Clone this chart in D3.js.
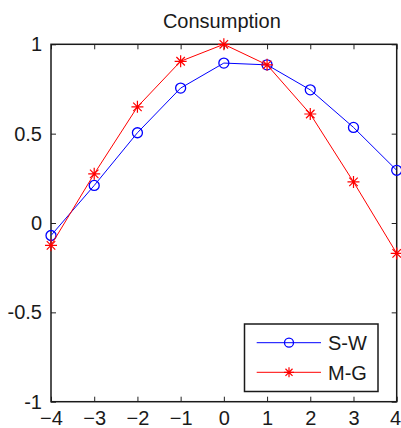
<!DOCTYPE html>
<html>
<head>
<meta charset="utf-8">
<script src="https://cdn.jsdelivr.net/npm/d3@7"></script>
<style>
  html, body { margin: 0; padding: 0; background: #fff; }
  svg { display: block; }
  text { font-family: "Liberation Sans", Arial, Helvetica, sans-serif; fill: #1a1a1a; }
</style>
</head>
<body>
<svg id="chart" width="401" height="428"></svg>
<script>
// Horizon (quarters) and responses for the two models
const horizon = [-4, -3, -2, -1, 0, 1, 2, 3, 4];
const swValues = [-0.07, 0.21, 0.505, 0.755, 0.895, 0.885, 0.745, 0.535, 0.295];
const mgValues = [-0.125, 0.275, 0.65, 0.905, 1.0, 0.885, 0.61, 0.23, -0.17];
const seriesNames = ["S-W", "M-G"];
const xTicks = [-4, -3, -2, -1, 0, 1, 2, 3, 4];
const yTicks = [-1, -0.5, 0, 0.5, 1];
const yTickLabels = ["-1", "-0.5", "0", "0.5", "1"];
const titleText = "Consumption";

const width = 401, height = 428;
const margin = { top: 44.3, right: 4.3, bottom: 26.3, left: 51 };
const svg = d3.select("#chart");

const x = d3.scaleLinear().domain([-4, 4]).range([margin.left, width - margin.right]);
const y = d3.scaleLinear().domain([-1, 1]).range([height - margin.bottom, margin.top]);

const fontSize = 20;
const tickLen = 5;

// Axes: ticks point inward on all four sides, box around the plot
svg.append("g").attr("class", "x-bottom")
  .attr("transform", `translate(0,${y(-1)})`)
  .call(d3.axisBottom(x).tickValues(xTicks).tickSizeInner(-tickLen).tickSizeOuter(0).tickPadding(9).tickFormat(d3.format("d")))
  .call(g => g.select(".domain").remove());
svg.append("g")
  .attr("transform", `translate(0,${y(1)})`)
  .call(d3.axisTop(x).tickValues(xTicks).tickSizeInner(-tickLen).tickSizeOuter(0).tickFormat(""))
  .call(g => g.select(".domain").remove());
svg.append("g")
  .attr("transform", `translate(${x(-4)},0)`)
  .call(d3.axisLeft(y).tickValues(yTicks).tickSizeInner(-tickLen).tickSizeOuter(0).tickPadding(9)
    .tickFormat((d, i) => yTickLabels[i]))
  .call(g => g.select(".domain").remove());
svg.append("g")
  .attr("transform", `translate(${x(4)},0)`)
  .call(d3.axisRight(y).tickValues(yTicks).tickSizeInner(-tickLen).tickSizeOuter(0).tickFormat(""))
  .call(g => g.select(".domain").remove());

svg.selectAll(".tick line").attr("stroke", "#222").attr("stroke-width", 1);
svg.selectAll(".tick text").attr("font-size", fontSize)
  .style("font-family", "'Liberation Sans', Arial, sans-serif").attr("fill", "#1a1a1a");

// Keep the last x label inside the right edge of the figure
svg.select(".x-bottom").selectAll(".tick").filter(d => d === xTicks[xTicks.length - 1])
  .select("text").attr("text-anchor", "end").attr("x", width - x(4) - 0.5);

svg.append("rect")
  .attr("x", x(-4)).attr("y", y(1))
  .attr("width", x(4) - x(-4)).attr("height", y(-1) - y(1))
  .attr("fill", "none").attr("stroke", "#1a1a1a").attr("stroke-width", 1.5);

// Title
svg.append("text")
  .attr("x", (x(-4) + x(4)) / 2 - 2)
  .attr("y", 28)
  .attr("text-anchor", "middle")
  .attr("font-size", fontSize)
  .text(titleText);

const line = d3.line().x((d, i) => x(horizon[i])).y(d => y(d));

function drawStar(g, cx, cy, r, color) {
  const d = r * Math.SQRT1_2;
  const path = `M${cx - r},${cy}L${cx + r},${cy}M${cx},${cy - r}L${cx},${cy + r}` +
    `M${cx - d},${cy - d}L${cx + d},${cy + d}M${cx - d},${cy + d}L${cx + d},${cy - d}`;
  g.append("path").attr("d", path).attr("stroke", color).attr("stroke-width", 1.2).attr("fill", "none");
}

// S-W series (blue, circles)
svg.append("path").datum(swValues).attr("d", line)
  .attr("fill", "none").attr("stroke", "#0000ff").attr("stroke-width", 1);
svg.append("g").selectAll("circle").data(swValues).join("circle")
  .attr("cx", (d, i) => x(horizon[i])).attr("cy", d => y(d)).attr("r", 5)
  .attr("fill", "none").attr("stroke", "#0000ff").attr("stroke-width", 1.3);

// M-G series (red, asterisks)
svg.append("path").datum(mgValues).attr("d", line)
  .attr("fill", "none").attr("stroke", "#ff0000").attr("stroke-width", 1);
const mgMarks = svg.append("g");
mgValues.forEach((v, i) => drawStar(mgMarks, x(horizon[i]), y(v), 6, "#ff0000"));

// Legend
const lg = svg.append("g");
lg.append("rect").attr("x", 244.5).attr("y", 324).attr("width", 133.5).attr("height", 67.5)
  .attr("fill", "#fff").attr("stroke", "#1a1a1a").attr("stroke-width", 1.5);
const rows = [342.7, 372.3];
const colors = ["#0000ff", "#ff0000"];
rows.forEach((ry, i) => {
  lg.append("line").attr("x1", 256.7).attr("x2", 321).attr("y1", ry).attr("y2", ry)
    .attr("stroke", colors[i]).attr("stroke-width", 1);
  if (i === 0) {
    lg.append("circle").attr("cx", 289).attr("cy", ry).attr("r", 4.5)
      .attr("fill", "none").attr("stroke", colors[i]).attr("stroke-width", 1.3);
  } else {
    drawStar(lg, 289, ry, 5, colors[i]);
  }
  lg.append("text").attr("x", 328).attr("y", ry).attr("dy", "0.36em")
    .attr("font-size", fontSize).text(seriesNames[i]);
});
</script>
</body>
</html>
